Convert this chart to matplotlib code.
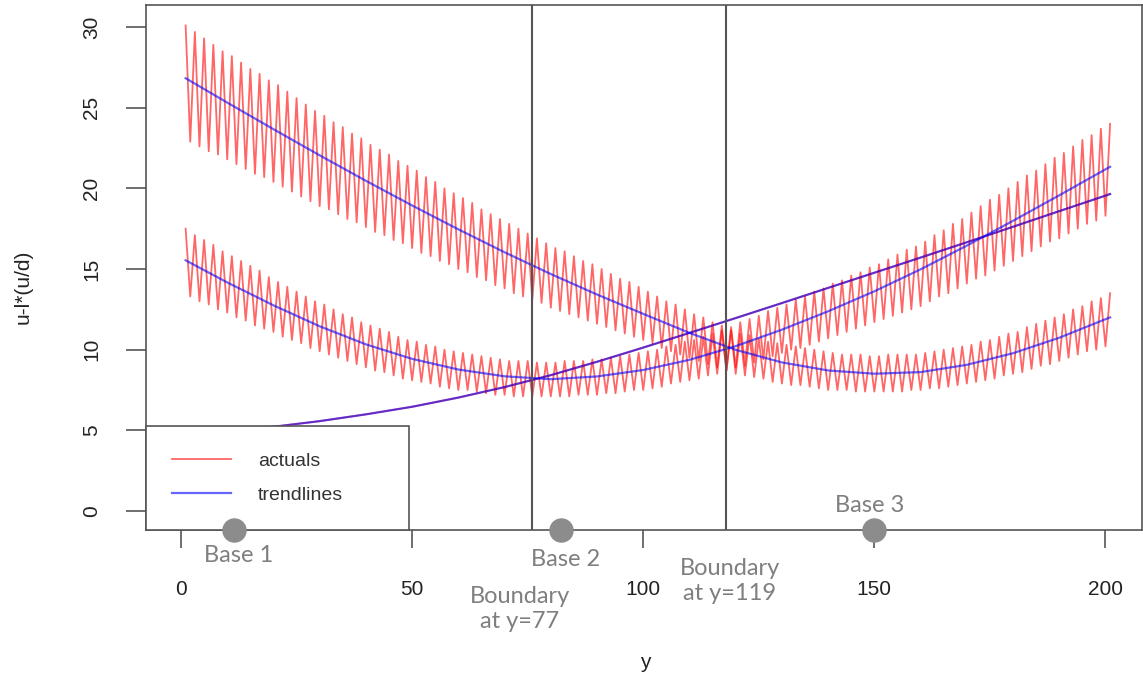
import numpy as np
import matplotlib
matplotlib.use("Agg")
from matplotlib import pyplot as plt
from matplotlib.lines import Line2D

# actuals, one value per y = 1..201 (zigzag series)
y_index = np.arange(1, 202)
actual_a = [30.1, 22.9, 29.7, 22.6, 29.3, 22.3, 28.9, 22.1, 28.5, 21.8,
            28.2, 21.5, 27.8, 21.2, 27.4, 20.9, 27.1, 20.7, 26.7, 20.4,
            26.4, 20.1, 26.0, 19.8, 25.6, 19.5, 25.2, 19.2, 24.8, 18.9,
            24.5, 18.7, 24.1, 18.4, 23.8, 18.1, 23.4, 17.9, 23.1, 17.6,
            22.7, 17.3, 22.4, 17.1, 22.1, 16.8, 21.7, 16.6, 21.4, 16.3,
            21.1, 16.0, 20.7, 15.8, 20.4, 15.5, 20.0, 15.3, 19.7, 15.0,
            19.4, 14.8, 19.1, 14.5, 18.7, 14.3, 18.4, 14.0, 18.1, 13.8,
            17.8, 13.5, 17.5, 13.3, 17.2, 13.1, 16.9, 12.9, 16.6, 12.6,
            16.3, 12.4, 16.1, 12.2, 15.8, 12.0, 15.5, 11.8, 15.3, 11.6,
            15.0, 11.4, 14.7, 11.2, 14.4, 11.0, 14.2, 10.8, 13.9, 10.6,
            13.6, 10.4, 13.3, 10.1, 13.0, 9.9, 12.8, 9.7, 12.5, 9.5,
            12.2, 9.3, 12.0, 9.1, 11.7, 8.9, 11.5, 8.7, 11.2, 8.5,
            11.0, 8.4, 10.9, 8.3, 10.7, 8.2, 10.5, 8.0, 10.4, 7.9,
            10.3, 7.8, 10.2, 7.8, 10.1, 7.7, 10.0, 7.6, 9.9, 7.5,
            9.8, 7.5, 9.7, 7.5, 9.7, 7.4, 9.7, 7.4, 9.6, 7.4,
            9.6, 7.4, 9.7, 7.4, 9.7, 7.4, 9.7, 7.5, 9.7, 7.5,
            9.8, 7.6, 9.9, 7.6, 10.0, 7.7, 10.1, 7.8, 10.2, 7.9,
            10.3, 8.0, 10.5, 8.1, 10.6, 8.2, 10.8, 8.4, 11.0, 8.5,
            11.1, 8.6, 11.4, 8.8, 11.6, 9.0, 11.8, 9.1, 12.0, 9.3,
            12.2, 9.5, 12.5, 9.7, 12.7, 9.9, 13.0, 10.0, 13.2, 10.2,
            13.5]
actual_b = [17.5, 13.3, 17.1, 13.0, 16.8, 12.8, 16.5, 12.5, 16.1, 12.3,
            15.8, 12.0, 15.5, 11.8, 15.2, 11.5, 14.9, 11.3, 14.5, 11.1,
            14.2, 10.8, 13.9, 10.6, 13.6, 10.4, 13.3, 10.1, 13.0, 9.9,
            12.8, 9.7, 12.5, 9.5, 12.2, 9.3, 12.0, 9.1, 11.7, 8.9,
            11.5, 8.7, 11.3, 8.6, 11.1, 8.4, 10.8, 8.2, 10.6, 8.1,
            10.5, 8.0, 10.3, 7.9, 10.2, 7.7, 10.0, 7.6, 9.9, 7.5,
            9.8, 7.5, 9.7, 7.4, 9.6, 7.3, 9.5, 7.2, 9.4, 7.2,
            9.3, 7.1, 9.3, 7.1, 9.3, 7.1, 9.2, 7.1, 9.2, 7.1,
            9.2, 7.1, 9.3, 7.1, 9.3, 7.2, 9.3, 7.2, 9.4, 7.2,
            9.4, 7.3, 9.5, 7.3, 9.6, 7.4, 9.7, 7.5, 9.8, 7.5,
            9.9, 7.6, 10.0, 7.7, 10.2, 7.9, 10.3, 8.0, 10.5, 8.1,
            10.6, 8.2, 10.8, 8.4, 11.0, 8.5, 11.2, 8.7, 11.4, 8.9,
            11.7, 9.0, 11.9, 9.2, 12.1, 9.4, 12.4, 9.6, 12.6, 9.8,
            12.8, 10.0, 13.1, 10.1, 13.3, 10.3, 13.6, 10.5, 13.8, 10.7,
            14.1, 10.9, 14.3, 11.1, 14.6, 11.3, 14.8, 11.5, 15.1, 11.7,
            15.3, 11.9, 15.6, 12.1, 15.9, 12.3, 16.2, 12.5, 16.4, 12.7,
            16.7, 13.0, 17.1, 13.3, 17.4, 13.5, 17.8, 13.8, 18.1, 14.1,
            18.5, 14.4, 18.9, 14.6, 19.3, 14.9, 19.6, 15.2, 20.0, 15.5,
            20.4, 15.8, 20.8, 16.1, 21.1, 16.4, 21.5, 16.7, 21.9, 16.9,
            22.2, 17.2, 22.6, 17.5, 23.0, 17.8, 23.3, 18.0, 23.7, 18.3,
            24.0]

# trendlines
trend_y = [1, 10, 20, 30, 40, 50, 60, 70, 80, 90, 100,
           110, 120, 130, 140, 150, 160, 170, 180, 190, 200, 201]
trend_a = [26.83, 25.32, 23.67, 22.05, 20.47, 18.94, 17.46, 16.04, 14.69, 13.42, 12.22,
           11.04, 9.99, 9.21, 8.71, 8.51, 8.61, 9.06, 9.78, 10.74, 11.89, 12.0]
trend_b = [15.54, 14.17, 12.75, 11.45, 10.33, 9.43, 8.77, 8.35, 8.17, 8.34, 8.74,
           9.37, 10.22, 11.24, 12.38, 13.62, 14.98, 16.45, 17.99, 19.57, 21.18, 21.34]
trend_c = [5.08, 5.02, 5.22, 5.57, 5.99, 6.46, 7.03, 7.68, 8.42, 9.25, 10.13,
           11.04, 11.96, 12.89, 13.83, 14.77, 15.71, 16.66, 17.62, 18.59, 19.55, 19.65]

base_y = [11.5, 82.2, 150]
base_labels = ["Base 1", "Base 2", "Base 3"]
boundary_y = [76, 118]
boundary_labels = ["Boundary\nat y=77", "Boundary\nat y=119"]

W, H = 1143, 679
fig = plt.figure(figsize=(W / 100, H / 100), dpi=100)
ax = fig.add_axes([146 / W, 1 - 530 / H, 996 / W, 525 / H])

red_kw = dict(color="red", alpha=0.6, lw=1.3)
blue_kw = dict(color="blue", alpha=0.6, lw=1.6)
ax.plot(y_index, actual_a, **red_kw)
ax.plot(y_index, actual_b, **red_kw)
ax.plot(trend_y, trend_c, **red_kw)
ax.plot(trend_y, trend_a, **blue_kw)
ax.plot(trend_y, trend_b, **blue_kw)
ax.plot(trend_y, trend_c, **blue_kw)

for b in boundary_y:
    ax.axvline(b, color="#555555", lw=1.5, zorder=3)

ax.set_xlim(-7.57, 207.9)
ax.set_ylim(-1.18, 31.37)
ymin = ax.get_ylim()[0]

for s in ax.spines.values():
    s.set_color("#555555")
    s.set_linewidth(1.2)

tick_font = "Liberation Sans"
ax.set_xticks([0, 50, 100, 150, 200])
ax.set_yticks([0, 5, 10, 15, 20, 25, 30])
ax.tick_params(axis="x", length=13, width=1.2, color="#555555", pad=23,
               labelsize=15, labelcolor="#222222")
ax.tick_params(axis="y", length=14.4, width=1.2, color="#555555", pad=18,
               labelsize=15, labelcolor="#222222")
for lbl in ax.get_xticklabels() + ax.get_yticklabels():
    lbl.set_fontfamily(tick_font)
for lbl in ax.get_yticklabels():
    lbl.set_rotation(90)
    lbl.set_va("center")

fig.text(23 / W, 1 - 287 / H, "u-l*(u/d)", rotation=90, ha="center", va="center",
         fontsize=15, family=tick_font, color="#222222")
fig.text(645 / W, 1 - 662 / H, "y", ha="center", va="center",
         fontsize=15, family=tick_font, color="#222222")

handles = [Line2D([], [], **red_kw), Line2D([], [], **blue_kw)]
leg = ax.legend(handles, ["actuals", "trendlines"], loc="lower left",
                bbox_to_anchor=(0, 0, 0.264, 0.202), mode="expand",
                borderaxespad=0, fancybox=False, framealpha=1,
                edgecolor="#555555", prop={"family": tick_font, "size": 14},
                handlelength=3.0, handletextpad=1.4, borderpad=1.35,
                labelspacing=0.85, labelcolor="#333333")
leg.get_frame().set_linewidth(1.2)
leg.set_zorder(6)

# base markers sit on the bottom of the frame
ax.scatter(base_y, [ymin] * len(base_y), s=275, color="#8c8c8c",
           clip_on=False, zorder=7)

note_kw = dict(ha="center", va="center", fontsize=17, family="Lato",
               color="#7f7f7f")
base_pos = [(239, 556), (566, 559), (870, 505)]
for (px, py), lab in zip(base_pos, base_labels):
    fig.text(px / W, 1 - py / H, lab, **note_kw)
boundary_pos = [(520, 609), (730, 581)]
for (px, py), lab in zip(boundary_pos, boundary_labels):
    fig.text(px / W, 1 - py / H, lab, linespacing=1.25, **note_kw)

fig.savefig("out.png", dpi=100)
